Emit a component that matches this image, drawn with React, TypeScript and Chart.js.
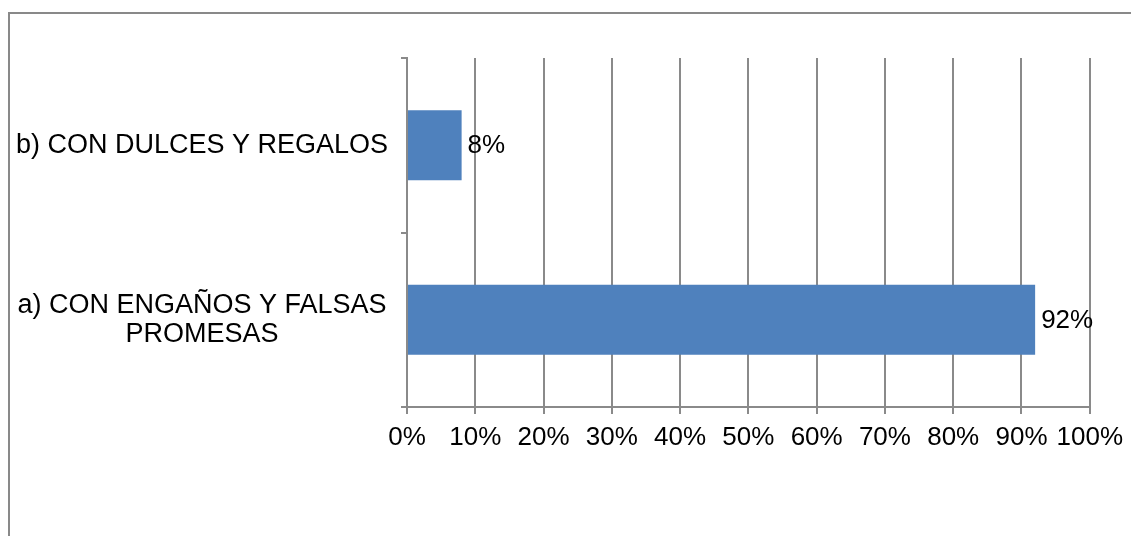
import React, { useEffect, useRef } from "react";
import { Chart, registerables } from "chart.js";

Chart.register(...registerables);

const categories: (string | string[])[] = [
  ["a) CON ENGAÑOS Y FALSAS", "PROMESAS"],
  "b) CON DULCES Y REGALOS",
];
const values: number[] = [92, 8];
const xMin = 0;
const xMax = 100;
const xStep = 10;

const FONT = "'Liberation Sans', Arial, sans-serif";
const GRID = "#8a8a8a";

const dataLabels = {
  id: "dataLabels",
  afterDatasetsDraw(chart: any) {
    const ctx = chart.ctx;
    const meta = chart.getDatasetMeta(0);
    ctx.save();
    ctx.font = `26px ${FONT}`;
    ctx.fillStyle = "#000";
    ctx.textAlign = "left";
    ctx.textBaseline = "middle";
    meta.data.forEach((bar: any, i: number) => {
      ctx.fillText(`${values[i]}%`, bar.x + 6, bar.y + 1);
    });
    ctx.restore();
  },
};

export default function App() {
  const ref = useRef<HTMLCanvasElement | null>(null);

  useEffect(() => {
    if (!ref.current) return;
    const chart = new Chart(ref.current, {
      type: "bar",
      data: {
        labels: categories,
        datasets: [
          {
            data: values,
            backgroundColor: "#4F81BD",
            borderWidth: 0,
            categoryPercentage: 1,
            barPercentage: 0.4,
          },
        ],
      },
      options: {
        indexAxis: "y",
        animation: false,
        responsive: false,
        devicePixelRatio: 1,
        layout: { padding: { left: 0, top: 58, right: 39, bottom: 0 } },
        plugins: {
          legend: { display: false },
          tooltip: { enabled: false },
          title: { display: false },
        },
        scales: {
          x: {
            type: "linear",
            min: xMin,
            max: xMax,
            ticks: {
              stepSize: xStep,
              autoSkip: false,
              callback: (v: any) => `${v}%`,
              font: { family: FONT, size: 26 },
              color: "#000",
              padding: 8,
              maxRotation: 0,
              minRotation: 0,
            },
            grid: {
              color: GRID,
              lineWidth: 2,
              tickLength: 7,
              drawOnChartArea: true,
            },
            border: { display: true, color: GRID, width: 2 },
            afterFit: (s: any) => {
              s.height = 129;
            },
          },
          y: {
            type: "category",
            reverse: true,
            ticks: {
              font: { family: FONT, size: 27, lineHeight: 1.07 },
              color: "#000",
              crossAlign: "center",
              padding: 13,
            },
            grid: {
              drawOnChartArea: false,
              tickLength: 6,
              color: GRID,
              lineWidth: 2,
              offset: true,
            },
            border: { display: true, color: GRID, width: 2 },
            afterFit: (s: any) => {
              s.width = 407;
            },
          },
        },
      },
      plugins: [dataLabels],
    } as any);
    return () => chart.destroy();
  }, []);

  return (
    <div
      style={{
        position: "fixed",
        left: 0,
        top: 0,
        width: 1131,
        height: 536,
        background: "#fff",
        overflow: "hidden",
      }}
    >
      <div
        style={{
          position: "absolute",
          left: 8,
          top: 12,
          width: 1300,
          height: 700,
          borderTop: "2px solid #898989",
          borderLeft: "2px solid #898989",
        }}
      />
      <canvas
        ref={ref}
        width={1131}
        height={536}
        style={{ position: "absolute", left: 0, top: 0, width: 1131, height: 536 }}
      />
    </div>
  );
}
